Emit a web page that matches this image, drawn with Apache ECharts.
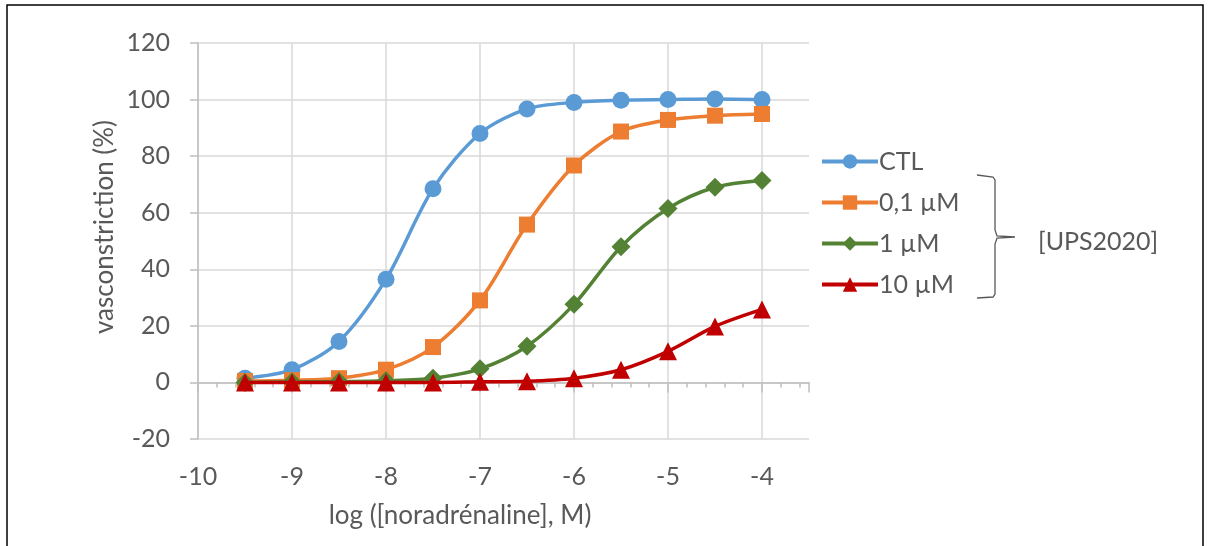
<!DOCTYPE html>
<html><head><meta charset="utf-8">
<script src="https://cdn.jsdelivr.net/npm/echarts@6/dist/echarts.min.js"></script>
<style>html,body{margin:0;padding:0;background:#fff}#c{width:1209px;height:546px}</style>
</head><body><div id="c"></div>
<script>
const logConc = [-9.5, -9, -8.5, -8, -7.5, -7, -6.5, -6, -5.5, -5, -4.5, -4];
const seriesNames = ['CTL', '0,1 µM', '1 µM', '10 µM'];
const ctl   = [1.5, 4.5, 14.5, 36.5, 68.5, 88, 96.7, 99, 99.8, 100, 100.2, 100];
const ups01 = [0.5, 0.8, 1.5, 4.5, 12.5, 29, 55.8, 76.7, 88.7, 92.8, 94.3, 94.9];
const ups1  = [0, 0.2, 0.3, 0.6, 1.5, 4.8, 12.8, 27.6, 48, 61.5, 69, 71.4];
const ups10 = [0, 0, 0, 0, 0, 0.2, 0.4, 1.5, 4.5, 11, 19.8, 25.8];
const yTicks = [-20, 0, 20, 40, 60, 80, 100, 120];
const xTicks = [-10, -9, -8, -7, -6, -5, -4];

const font = 'Lato, "Open Sans", sans-serif';
const fs = 25;
const txt = '#595959';
const colors = ['#5B9BD5', '#ED7D31', '#548235', '#C00000'];
const symbols = ['circle', 'rect', 'diamond', 'triangle'];
const sizes = [17, 16, 19, 18];
const values = [ctl, ups01, ups1, ups10];

const chart = echarts.init(document.getElementById('c'));
chart.setOption({
  animation: false,
  color: colors,
  grid: {left: 198, top: 43, right: 400, bottom: 107},
  legend: {
    orient: 'vertical', left: 815, top: 144, itemWidth: 56, itemHeight: 18, itemGap: 16,
    lineStyle: {width: 4},
    textStyle: {fontFamily: font, fontSize: fs, lineHeight: 25, color: txt, padding: [0, 0, 0, -4]},
    data: seriesNames
  },
  xAxis: {
    type: 'value', min: -10, max: -3.5, interval: 1,
    axisLine: {lineStyle: {color: '#bfbfbf', width: 1.5}},
    axisTick: {show: true, length: 10, lineStyle: {color: '#bfbfbf', width: 1.5}},
    minorTick: {show: true, splitNumber: 5, length: 5, lineStyle: {color: '#bfbfbf', width: 1.5}},
    splitLine: {show: true, showMaxLine: false, lineStyle: {color: '#d9d9d9', width: 1.5}},
    axisLabel: {fontFamily: font, fontSize: fs, color: txt, margin: 25, showMaxLabel: false,
      formatter: v => xTicks.includes(v) ? String(v) : ''}
  },
  yAxis: {
    type: 'value', min: -20, max: 120, interval: 20,
    axisLine: {show: true, lineStyle: {color: '#bfbfbf', width: 1.5}},
    axisTick: {show: true, length: 8, lineStyle: {color: '#bfbfbf', width: 1.5}},
    splitLine: {show: true, lineStyle: {color: '#d9d9d9', width: 1.5}},
    axisLabel: {fontFamily: font, fontSize: fs, color: txt, margin: 28,
      formatter: v => yTicks.includes(v) ? String(v) : ''}
  },
  series: seriesNames.map((n, i) => ({
    name: n, type: 'line', smooth: 0.3,
    symbol: symbols[i], symbolSize: sizes[i],
    lineStyle: {width: 3.5, color: colors[i]},
    itemStyle: {color: colors[i]},
    data: logConc.map((x, j) => [x, values[i][j]]),
    z: 2 + i
  })),
  graphic: [
    {type: 'rect', shape: {x: 7, y: 5, width: 1196, height: 560}, style: {fill: 'none', stroke: '#000', lineWidth: 1.5}, silent: true},
    {type: 'text', x: 460, y: 516, style: {text: 'log ([noradrénaline], M)', font: '26px ' + font, fill: txt, align: 'center', verticalAlign: 'middle'}},
    {type: 'text', x: 105, y: 227, rotation: Math.PI / 2, style: {text: 'vasconstriction (%)', font: '26px ' + font, fill: txt, align: 'center', verticalAlign: 'middle'}},
    {type: 'polyline', shape: {points: [[977, 175], [993, 177], [995, 180], [995, 230], [997, 236], [1015, 237], [997, 238], [995, 244], [995, 294], [993, 297], [977, 298]]},
      style: {fill: 'none', stroke: '#595959', lineWidth: 1.3}},
    {type: 'text', x: 1038, y: 242, style: {text: '[UPS2020]', font: fs + 'px ' + font, fill: txt, align: 'left', verticalAlign: 'middle'}}
  ]
});
</script></body></html>
